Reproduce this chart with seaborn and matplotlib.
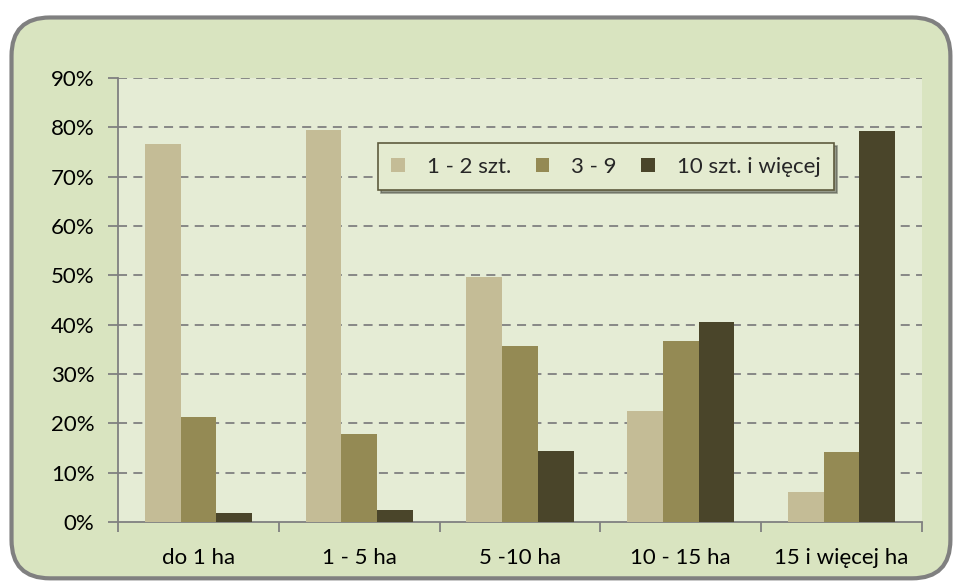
import numpy as np
import pandas as pd
import matplotlib.pyplot as plt
import seaborn as sns
from matplotlib.patches import FancyBboxPatch
from matplotlib.ticker import PercentFormatter, FixedLocator

# dane
categories = ["do 1 ha", "1 - 5 ha", "5 -10 ha", "10 - 15 ha", "15 i więcej ha"]
series = ["1 - 2 szt.", "3 - 9", "10 szt. i więcej"]
v_1_2 = [76.6, 79.5, 49.7, 22.5, 6.1]
v_3_9 = [21.3, 17.8, 35.7, 36.7, 14.2]
v_10 = [1.9, 2.4, 14.3, 40.5, 79.3]
colors = ["#C4BC96", "#948A54", "#4A452A"]

df = pd.DataFrame({
    "kat": categories * 3,
    "seria": [s for s in series for _ in categories],
    "val": v_1_2 + v_3_9 + v_10,
})

sns.set_theme(style="white")
plt.rcParams["font.family"] = ["Lato", "DejaVu Sans"]

fig = plt.figure(figsize=(9.6, 5.83), dpi=100)
fig.patch.set_facecolor("white")
# ramka z zaokraglonymi rogami
frame = FancyBboxPatch((0.012, 0.008), 0.978, 0.962,
                       boxstyle="round,pad=0,rounding_size=0.04",
                       transform=fig.transFigure, facecolor="#D9E4C0",
                       edgecolor="#808080", linewidth=3, zorder=-5,
                       mutation_aspect=960 / 583)
fig.patches.append(frame)

ax = fig.add_axes([0.1229, 0.1046, 0.8375, 0.7616])
ax.set_zorder(2)
ax.set_facecolor("#E5ECD5")

sns.barplot(data=df, x="kat", y="val", hue="seria", palette=colors,
            width=0.667, saturation=1, ax=ax, zorder=3, legend=True,
            linewidth=0, edgecolor="none")

ax.set_ylim(0, 90)
ax.set_xlim(-0.5, 4.5)
ax.yaxis.set_major_formatter(PercentFormatter(decimals=0))
ax.set_yticks(np.arange(0, 91, 10))
for y in range(10, 91, 10):
    ax.axhline(y, color="#808080", linestyle=(0, (5, 3.5)), linewidth=1.3, zorder=1)

ax.xaxis.set_minor_locator(FixedLocator(np.arange(-0.5, 4.6, 1)))
ax.tick_params(axis="x", which="major", bottom=True, length=0, pad=19,
               labelsize=16, labelcolor="black")
ax.tick_params(axis="x", which="minor", bottom=True, length=7, width=1.3,
               color="#808080", direction="out")
ax.tick_params(axis="y", left=True, length=7, width=1.3, color="#808080",
               direction="out", labelsize=16, pad=10, labelcolor="black")

for side in ["top", "right"]:
    ax.spines[side].set_visible(False)
for side in ["left", "bottom"]:
    ax.spines[side].set_color("#808080")
    ax.spines[side].set_linewidth(1.3)
ax.set_xlabel("")
ax.set_ylabel("")

leg = ax.legend(loc="center", bbox_to_anchor=(0.607, 0.80), ncol=3, frameon=True,
                fontsize=16, handlelength=0.6, handleheight=0.6, columnspacing=1.1,
                handletextpad=1.0, shadow=True, borderpad=0.6, fancybox=False)
leg.get_frame().set_facecolor("#E4EBD0")
leg.get_frame().set_edgecolor("#5E5B3E")
leg.get_frame().set_linewidth(1.2)
leg.set_zorder(5)

fig.savefig("out.png", dpi=100, facecolor=fig.get_facecolor())
